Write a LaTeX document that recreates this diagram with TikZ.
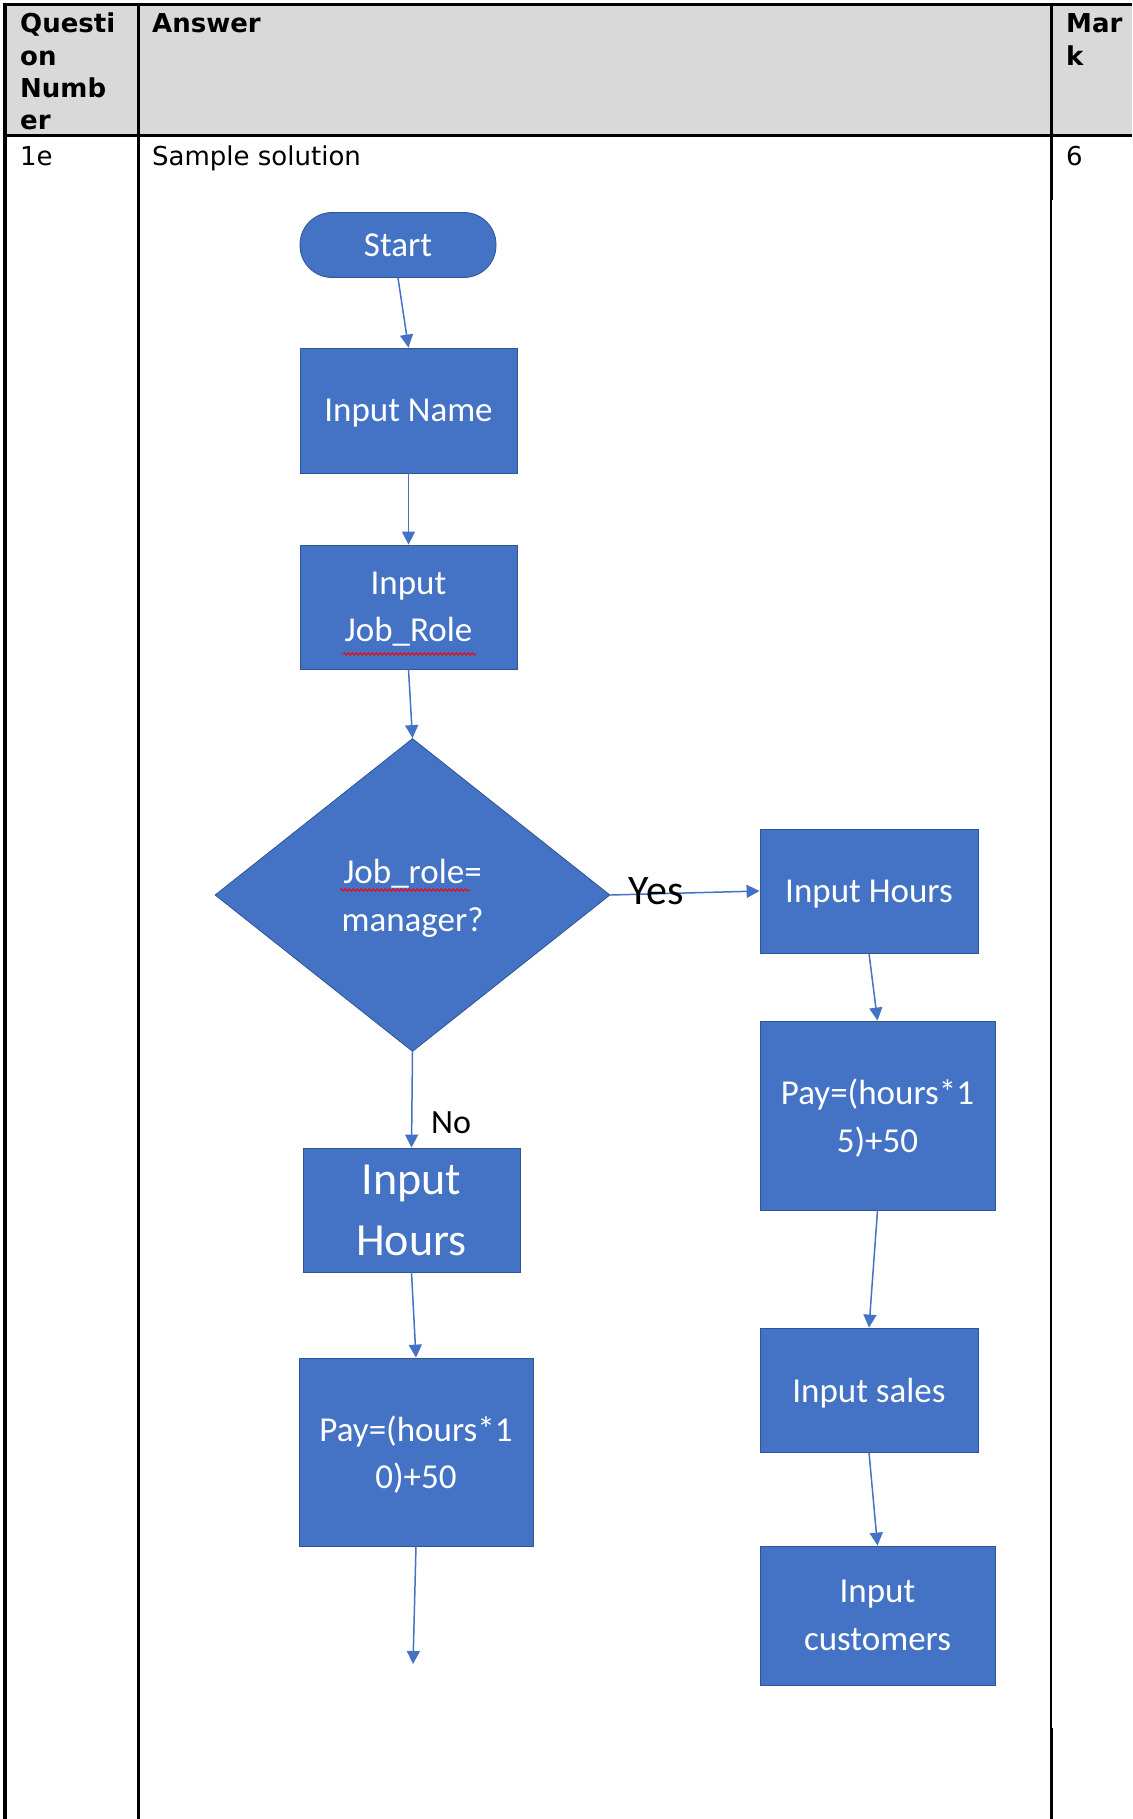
\documentclass[tikz,border=0pt]{standalone}
\usepackage{fontspec}
\setmainfont{DejaVu Sans}
\newfontfamily\calfont{Carlito}
\usetikzlibrary{shapes.geometric,arrows.meta,decorations.pathmorphing}
\definecolor{obl}{HTML}{4472C4}
\definecolor{obd}{HTML}{2F5597}
\definecolor{hdr}{HTML}{D9D9D9}
\begin{document}
\begin{tikzpicture}[x=1pt,y=-1pt,
 box/.style={rectangle, fill=obl, draw=obd, line width=0.8pt, text=white, font=\calfont\fontsize{35}{47.5}\selectfont, align=center, inner sep=0pt, text depth=0pt},
 flow/.style={draw=obl, line width=1.5pt, -{Triangle[width=13pt,length=13pt]}},
 tbltxt/.style={anchor=base west, inner sep=0pt, font=\fontsize{26}{32.5}\selectfont},
 hdrtxt/.style={anchor=base west, inner sep=0pt, font=\bfseries\fontsize{26}{32.5}\selectfont},
 lbl/.style={inner sep=0pt, font=\calfont\fontsize{42}{50}\selectfont},
 squig/.style={draw=red, line width=1pt, decorate, decoration={snake, amplitude=1.2pt, segment length=4pt}}
]
\useasboundingbox (0,0) rectangle (1132,1819);
% table
\fill[hdr] (5,5) rectangle (1132,136);
\draw[line width=3pt] (3,5) -- (1132,5);
\draw[line width=4pt] (5,3.5) -- (5,1819);
\draw[line width=3pt] (138,5) -- (138,1819);
\draw[line width=3pt] (5,136) -- (1132,136);
\draw[line width=3pt] (1051,5) -- (1051,200);
\draw[line width=1.5pt] (1051,200) -- (1051,1728);
\draw[line width=3pt] (1051,1728) -- (1051,1819);
\node[hdrtxt] (q1) at (20,33) {Questi};
\node[hdrtxt] (q2) at (20,65.5) {on};
\node[hdrtxt] (q3) at (20,98) {Numb};
\node[hdrtxt] (q4) at (20,130) {er};
\node[hdrtxt] (ans) at (152,33) {Answer};
\node[hdrtxt] (m1) at (1066,33) {Mar};
\node[hdrtxt] (m2) at (1066,65.5) {k};
\node[tbltxt] (r1) at (20,166) {1e};
\node[tbltxt] (sol) at (152,166) {Sample solution};
\node[tbltxt] (mk) at (1066,166) {6};
% flowchart
\node[box, rounded corners=32pt, minimum width=196pt, minimum height=65pt] (start) at (398,245) {Start};
\node[box, minimum width=217pt, minimum height=125pt] (name) at (408.5,410.5) {Input Name};
\node[box, minimum width=217pt, minimum height=124pt] (role) at (408.5,607) {Input\\Job\_Role};
\node[box, diamond, minimum width=395pt, minimum height=313pt, font=\calfont\fontsize{35}{48}\selectfont] (dia) at (412.5,895) {Job\_role=\\manager?};
\node[box, minimum width=218pt, minimum height=124pt] (hoursR) at (869,891) {Input Hours};
\node[box, minimum width=235pt, minimum height=189pt] (pay15) at (877.5,1115.5) {Pay=(hours*1\\5)+50};
\node[box, minimum width=218pt, minimum height=124pt] (sales) at (869,1390) {Input sales};
\node[box, minimum width=235pt, minimum height=139pt] (cust) at (877.5,1615.5) {Input\\customers};
\node[box, minimum width=217pt, minimum height=124pt, font=\calfont\fontsize{46}{61}\selectfont] (hoursL) at (411.5,1210) {Input\\Hours};
\node[box, minimum width=234pt, minimum height=188pt] (pay10) at (416,1452) {Pay=(hours*1\\0)+50};
\coordinate (end) at (413,1664);
\draw[squig] (343,654) -- (476,654);
\draw[squig] (340,890) -- (470,890);
% connectors
\draw[flow] (start.south) -- (name.north);
\draw[flow] (name.south) -- (role.north);
\draw[flow] (role.south) -- (dia.north);
\draw[flow] (dia.east) -- (hoursR.west);
\draw[flow] (hoursR.south) -- (pay15.north);
\draw[flow] (pay15.south) -- (sales.north);
\draw[flow] (sales.south) -- (cust.north);
\draw[flow] (dia.south) -- (hoursL.north);
\draw[flow] (hoursL.south) -- (pay10.north);
\draw[flow] (pay10.south) -- (end);
\node[lbl] (yes) at (656,891) {Yes};
\node[lbl, font=\calfont\fontsize{34}{40}\selectfont] (no) at (451,1123) {No};
\end{tikzpicture}
\end{document}
